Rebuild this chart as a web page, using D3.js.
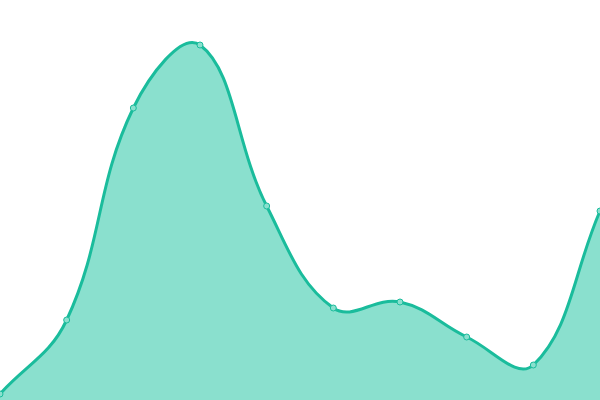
<!DOCTYPE html>
<html>
<head>
<meta charset="utf-8">
<script src="https://cdn.jsdelivr.net/npm/d3@7"></script>
<style>
  body { margin: 0; background: #fff; }
  svg { display: block; }
</style>
</head>
<body>
<svg id="chart" width="600" height="400"></svg>
<script>
// one reading per slot, left to right
const slots = [0, 1, 2, 3, 4, 5, 6, 7, 8, 9];
const values = [6, 80, 292, 355, 194, 92, 98, 63, 35, 189];

const width = 600, height = 400;
const svg = d3.select("#chart");

const x = d3.scaleLinear().domain([0, slots.length - 1]).range([0, width]);
const y = d3.scaleLinear().domain([0, 400]).range([height, 0]);

// distance-weighted bezier spline (tension 0.4), control points kept inside the plot
function curveTension(context) {
  const t = 0.4;
  let xs, ys, line;
  const clampX = v => Math.max(0, Math.min(width, v));
  const clampY = v => Math.max(0, Math.min(height, v));
  return {
    areaStart() { line = 0; },
    areaEnd() { line = NaN; },
    lineStart() { xs = []; ys = []; },
    point(px, py) { xs.push(+px); ys.push(+py); },
    lineEnd() {
      const n = xs.length;
      if (!n) return;
      const cpPrev = [], cpNext = [];
      for (let i = 0; i < n; i++) {
        const p = Math.max(i - 1, 0), q = Math.min(i + 1, n - 1);
        const d01 = Math.hypot(xs[i] - xs[p], ys[i] - ys[p]);
        const d12 = Math.hypot(xs[q] - xs[i], ys[q] - ys[i]);
        let s01 = d01 / (d01 + d12), s12 = d12 / (d01 + d12);
        if (isNaN(s01)) s01 = 0;
        if (isNaN(s12)) s12 = 0;
        const fa = t * s01, fb = t * s12;
        const dx = xs[q] - xs[p], dy = ys[q] - ys[p];
        cpPrev.push([clampX(xs[i] - fa * dx), clampY(ys[i] - fa * dy)]);
        cpNext.push([clampX(xs[i] + fb * dx), clampY(ys[i] + fb * dy)]);
      }
      if (line) context.lineTo(xs[0], ys[0]); else context.moveTo(xs[0], ys[0]);
      for (let i = 1; i < n; i++) {
        context.bezierCurveTo(cpNext[i - 1][0], cpNext[i - 1][1], cpPrev[i][0], cpPrev[i][1], xs[i], ys[i]);
      }
      if (line || (line !== 0 && n === 1)) context.closePath();
      line = 1 - line;
    }
  };
}

const area = d3.area()
  .x((d, i) => x(slots[i]))
  .y0(y(0))
  .y1(d => y(d))
  .curve(curveTension);

const line = d3.line()
  .x((d, i) => x(slots[i]))
  .y(d => y(d))
  .curve(curveTension);

svg.append("path")
  .datum(values)
  .attr("d", area)
  .attr("fill", "#8ae0ce");

svg.append("path")
  .datum(values)
  .attr("d", line)
  .attr("fill", "none")
  .attr("stroke", "#1abc9c")
  .attr("stroke-width", 3);

svg.selectAll("circle")
  .data(values)
  .enter().append("circle")
  .attr("cx", (d, i) => x(slots[i]))
  .attr("cy", d => y(d))
  .attr("r", 3)
  .attr("fill", "#8ae0ce")
  .attr("stroke", "#1abc9c")
  .attr("stroke-width", 1);
</script>
</body>
</html>
